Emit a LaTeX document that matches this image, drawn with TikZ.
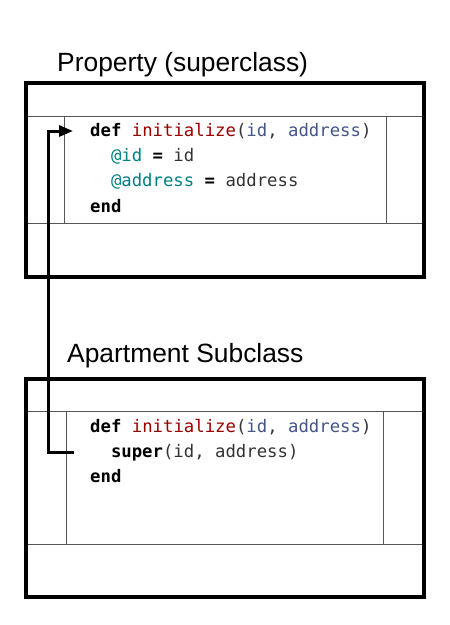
\documentclass[tikz,border=0pt]{standalone}
\usepackage{fontspec}
\newfontfamily\titlefont{Liberation Sans}
\newfontfamily\codefont{DejaVu Sans Mono}
\usetikzlibrary{arrows.meta}
\definecolor{kwred}{HTML}{990000}
\definecolor{param}{HTML}{445588}
\definecolor{ivar}{HTML}{008080}
\definecolor{plain}{HTML}{333333}
\definecolor{rulegray}{HTML}{555555}
\begin{document}
\begin{tikzpicture}[x=1pt,y=-1pt,
  titletext/.style={anchor=base west, inner sep=0pt, font=\titlefont\fontsize{26.4}{30}\selectfont},
  codeline/.style={anchor=base west, inner sep=0pt, font=\codefont\fontsize{17.3}{20}\selectfont},
  classbox/.style={draw=black, line width=4pt},
  innerrule/.style={draw=rulegray, line width=1pt},
  link/.style={line width=3pt, line join=miter, -{Triangle[length=14pt,width=11pt]}}]
\useasboundingbox (0,0) rectangle (450,625);

% ---- Property (superclass)
\node[titletext] (t1) at (57,71) {Property (superclass)};
\draw[innerrule] (26,116) -- (424,116);
\draw[innerrule] (26,223) -- (424,223);
\draw[innerrule] (64,116) -- (64,223);
\draw[innerrule] (386,116) -- (386,223);
\draw[classbox] (26,83) rectangle (424,277);

\node[codeline] (p1) at (90,136) {\textbf{def} \textcolor{kwred}{initialize}\textcolor{plain}{(}\textcolor{param}{id}\textcolor{plain}{,} \textcolor{param}{address}\textcolor{plain}{)}};
\node[codeline] (p2) at (110.8,161) {\textcolor{ivar}{@id} \textbf{=} \textcolor{plain}{id}};
\node[codeline] (p3) at (110.8,186.5) {\textcolor{ivar}{@address} \textbf{=} \textcolor{plain}{address}};
\node[codeline] (p4) at (90,212) {\textbf{end}};

% ---- Apartment Subclass
\node[titletext] (t2) at (67,362) {Apartment Subclass};
\draw[innerrule] (26,411) -- (424,411);
\draw[innerrule] (26,544) -- (424,544);
\draw[innerrule] (66,411) -- (66,544);
\draw[innerrule] (383,411) -- (383,544);
\draw[classbox] (26,378.5) rectangle (424,597);

\node[codeline] (a1) at (90,432) {\textbf{def} \textcolor{kwred}{initialize}\textcolor{plain}{(}\textcolor{param}{id}\textcolor{plain}{,} \textcolor{param}{address}\textcolor{plain}{)}};
\node[codeline] (a2) at (110.8,457) {\textbf{super}\textcolor{plain}{(id, address)}};
\node[codeline] (a3) at (90,482) {\textbf{end}};

% ---- call arrow
\coordinate (src) at (74,452);
\coordinate (bend) at (48,452);
\coordinate (dst) at (73,131);
\draw[link] (src) -- (bend) |- (dst);
\end{tikzpicture}
\end{document}
